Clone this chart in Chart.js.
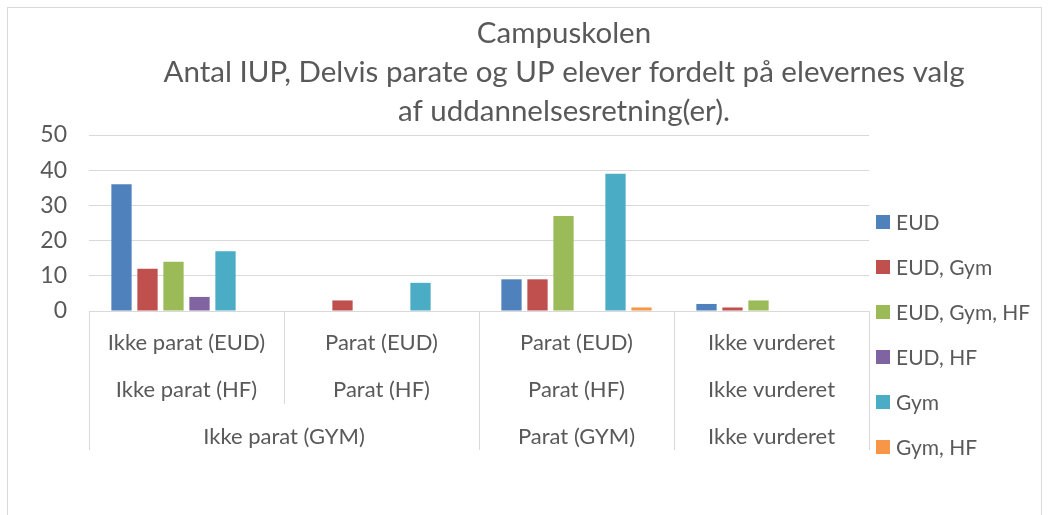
<!DOCTYPE html>
<html>
<head>
<meta charset="utf-8">
<script src="https://cdn.jsdelivr.net/npm/chart.js@4.4.0/dist/chart.umd.min.js"></script>
<style>
  html, body { margin: 0; padding: 0; background: #fff; }
  #wrap { position: relative; width: 1049px; height: 515px; overflow: hidden; }
  #ramme { position: absolute; left: 7px; top: 7px; width: 1033px; height: 530px; border: 1px solid #d9d9d9; pointer-events: none; }
</style>
</head>
<body>
<div id="wrap">
  <canvas id="graf" width="1049" height="515"></canvas>
  <div id="ramme"></div>
</div>
<script>
// kategorier (3 niveauer)
const niveau1 = ["Ikke parat (EUD)", "Parat (EUD)", "Parat (EUD)", "Ikke vurderet"];
const niveau2 = ["Ikke parat (HF)", "Parat (HF)", "Parat (HF)", "Ikke vurderet"];
const grupper = ["Ikke parat (GYM)", "Parat (GYM)", "Ikke vurderet"];
const gruppeAntal = [2, 1, 1];

// serier
const serieNavne = ["EUD", "EUD, Gym", "EUD, Gym, HF", "EUD, HF", "Gym", "Gym, HF"];
const eud = [36, 0, 9, 2];
const eudGym = [12, 3, 9, 1];
const eudGymHf = [14, 0, 27, 3];
const eudHf = [4, 0, 0, 0];
const gym = [17, 8, 39, 0];
const gymHf = [0, 0, 1, 0];

const yTicks = [0, 10, 20, 30, 40, 50];

const farver = ["#4f81bd", "#c0504d", "#9bbb59", "#8064a2", "#4bacc6", "#f79646"];
const tekstFarve = "#595959";
const linjeFarve = "#d9d9d9";
const skrift = "Lato";

// tegner kategoriakse med grupper
const gruppeAkse = {
  id: "gruppeAkse",
  afterDraw(chart) {
    const ctx = chart.ctx;
    const x = chart.scales.x;
    const bund = chart.chartArea.bottom;
    const halv = (x.getPixelForValue(1) - x.getPixelForValue(0)) / 2;
    ctx.save();
    ctx.font = "22px " + skrift;
    ctx.fillStyle = tekstFarve;
    ctx.textAlign = "center";
    ctx.textBaseline = "middle";
    niveau1.forEach((t, i) => ctx.fillText(t, x.getPixelForValue(i), bund + 32));
    niveau2.forEach((t, i) => ctx.fillText(t, x.getPixelForValue(i), bund + 79));

    ctx.strokeStyle = linjeFarve;
    ctx.lineWidth = 1;
    const streg = (px, til) => {
      const xx = Math.round(px) + 0.5;
      ctx.beginPath();
      ctx.moveTo(xx, bund);
      ctx.lineTo(xx, bund + til);
      ctx.stroke();
    };
    let start = 0;
    grupper.forEach((t, g) => {
      const n = gruppeAntal[g];
      const venstre = x.getPixelForValue(start) - halv;
      const hoejre = x.getPixelForValue(start + n - 1) + halv;
      ctx.fillText(t, (venstre + hoejre) / 2, bund + 126);
      streg(venstre, 139);
      for (let k = 1; k < n; k++) {
        streg(x.getPixelForValue(start + k) - halv, 93);
      }
      start += n;
    });
    streg(x.getPixelForValue(niveau1.length - 1) + halv, 139);
    ctx.restore();
  }
};

// forklaring til hoejre
const forklaring = {
  id: "forklaring",
  afterDraw(chart) {
    const ctx = chart.ctx;
    const x0 = chart.chartArea.right + 7;
    const y0 = 222;
    ctx.save();
    ctx.font = "21px " + skrift;
    ctx.textBaseline = "middle";
    ctx.textAlign = "left";
    chart.data.datasets.forEach((ds, i) => {
      const y = y0 + i * 45;
      ctx.fillStyle = ds.backgroundColor;
      ctx.fillRect(x0, y - 7, 14, 14);
      ctx.fillStyle = tekstFarve;
      ctx.fillText(ds.label, x0 + 20, y + 1);
    });
    ctx.restore();
  }
};

// titlen staar lidt til hoejre som i Excel
const flytTitel = {
  id: "flytTitel",
  afterLayout(chart) {
    if (chart.titleBlock) chart.titleBlock.left = 79;
  }
};

const serier = [eud, eudGym, eudGymHf, eudHf, gym, gymHf];

new Chart(document.getElementById("graf"), {
  type: "bar",
  data: {
    labels: niveau1,
    datasets: serier.map((s, i) => ({
      label: serieNavne[i],
      data: s,
      backgroundColor: farver[i],
      borderWidth: 0,
      categoryPercentage: 0.8,
      barPercentage: 0.78,
    })),
  },
  options: {
    responsive: false,
    animation: false,
    layout: { padding: { left: 0, right: 0, top: 0, bottom: 0 } },
    plugins: {
      legend: { display: false },
      tooltip: { enabled: false },
      title: {
        display: true,
        text: ["Campuskolen", "Antal IUP, Delvis parate og UP elever fordelt på elevernes valg", "af uddannelsesretning(er)."],
        color: tekstFarve,
        font: { family: skrift, size: 29.5, weight: "normal", lineHeight: 39 / 29.5 },
        padding: { top: 14, bottom: 4 },
      },
    },
    scales: {
      x: {
        ticks: { display: false },
        grid: { display: false },
        border: { display: true, color: linjeFarve },
        afterFit: (scale) => { scale.height = 204; },
      },
      y: {
        min: 0,
        max: 50,
        afterBuildTicks: (scale) => { scale.ticks = yTicks.map((v) => ({ value: v })); },
        ticks: { color: tekstFarve, font: { family: skrift, size: 23 }, padding: 22 },
        grid: { color: linjeFarve, drawTicks: false },
        border: { display: false },
        afterFit: (scale) => { scale.width = 89; },
      },
      // plads til forklaringen
      plads: {
        type: "linear",
        position: "right",
        ticks: { display: false },
        grid: { display: false, drawTicks: false },
        border: { display: false },
        afterFit: (scale) => { scale.width = 180; },
      },
    },
  },
  plugins: [gruppeAkse, forklaring, flytTitel],
});
</script>
</body>
</html>
